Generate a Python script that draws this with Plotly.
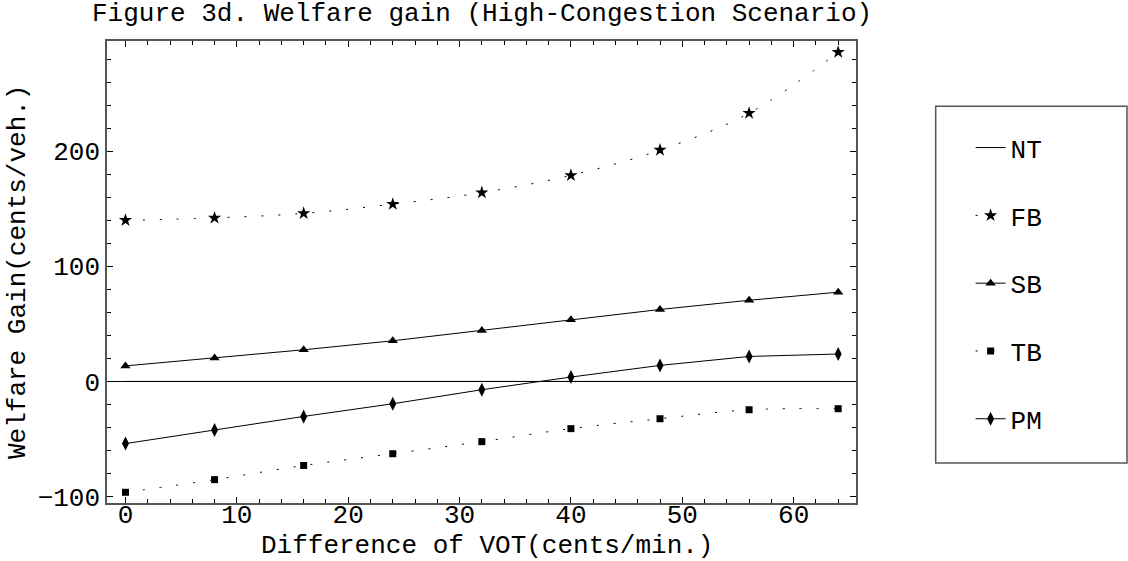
import plotly.graph_objects as go

# ---- data ----
vot = [0, 8, 16, 24, 32, 40, 48, 56, 64]
nt = [0, 0, 0, 0, 0, 0, 0, 0, 0]
fb = [140, 142, 146, 154, 164, 179, 201, 233, 286]
sb = [13.5, 20.3, 27.5, 35.3, 44.3, 53.5, 62.5, 70.5, 77.5]
tb = [-96.3, -85.3, -73, -62.8, -52.3, -41, -32.4, -24.6, -23.7]
pm = [-54, -42.2, -30.4, -19.4, -7.2, 3.8, 13.9, 21.7, 23.8]

FONT = "Liberation Mono, Courier New, monospace"
FS = 26
DOTS = "2px,15px"

fig = go.Figure()

series = [
    ("NT", nt, "solid", "linear", None, 0),
    ("FB", fb, DOTS, "spline", "star", 10),
    ("SB", sb, "solid", "linear", "triangle-up", 9),
    ("TB", tb, DOTS, "spline", "square", 7),
    ("PM", pm, "solid", "linear", "diamond-tall", 10),
]
for name, vals, dash, shape, sym, size in series:
    fig.add_trace(go.Scatter(
        x=vot, y=vals, name=name, legendgroup=name,
        mode="lines" if sym is None else "lines+markers",
        line=dict(color="black", width=1, dash=dash, shape=shape),
        marker=dict(symbol=sym or "circle", size=size, color="black"),
    ))

axis_common = dict(
    showgrid=False,
    showline=True, linecolor="#555", linewidth=1.5,
    mirror="ticks", ticks="inside", ticklen=6, tickcolor="black", tickwidth=1,
    tickfont=dict(family=FONT, size=FS, color="black"),
)
fig.update_xaxes(range=[-1.66, 65.6], dtick=10, tick0=0, zeroline=False,
                 ticklabelstandoff=-13,
                 minor=dict(dtick=2, ticks="inside", ticklen=4, tickcolor="black"),
                 **axis_common)
fig.update_yaxes(range=[-105.6, 295.7], dtick=100, tick0=0,
                 zeroline=True, zerolinecolor="black", zerolinewidth=1,
                 minor=dict(dtick=20, ticks="inside", ticklen=4, tickcolor="black"),
                 **axis_common)

fig.update_layout(
    width=1128, height=561,
    margin=dict(l=107, r=272, t=41, b=58),
    paper_bgcolor="white", plot_bgcolor="white",
    font=dict(family=FONT, size=FS, color="black"),
    showlegend=True,
    legend=dict(x=1.153, y=0.82, xanchor="left", yanchor="top",
                borderwidth=0, bgcolor="rgba(0,0,0,0)",
                tracegroupgap=31, font=dict(family=FONT, size=FS, color="black")),
    shapes=[dict(type="rect", xref="paper", yref="paper",
                 x0=1.1064, x1=1.3618, y0=0.0866, y1=0.859,
                 line=dict(color="#555", width=1.5))],
    annotations=[
        dict(text="Figure 3d. Welfare gain (High-Congestion Scenario)",
             xref="paper", yref="paper", x=0.5, y=1, yshift=27,
             xanchor="center", yanchor="middle", showarrow=False,
             font=dict(family=FONT, size=FS, color="black")),
        dict(text="Difference of VOT(cents/min.)",
             xref="paper", yref="paper", x=(487 - 107) / 749, y=0, yshift=-43,
             xanchor="center", yanchor="middle", showarrow=False,
             font=dict(family=FONT, size=FS, color="black")),
        dict(text="Welfare Gain(cents/veh.)", textangle=-90,
             xref="paper", yref="paper", x=0, y=0.5, xshift=-89,
             xanchor="center", yanchor="middle", showarrow=False,
             font=dict(family=FONT, size=FS, color="black")),
    ],
)

fig.write_html("out.html")
